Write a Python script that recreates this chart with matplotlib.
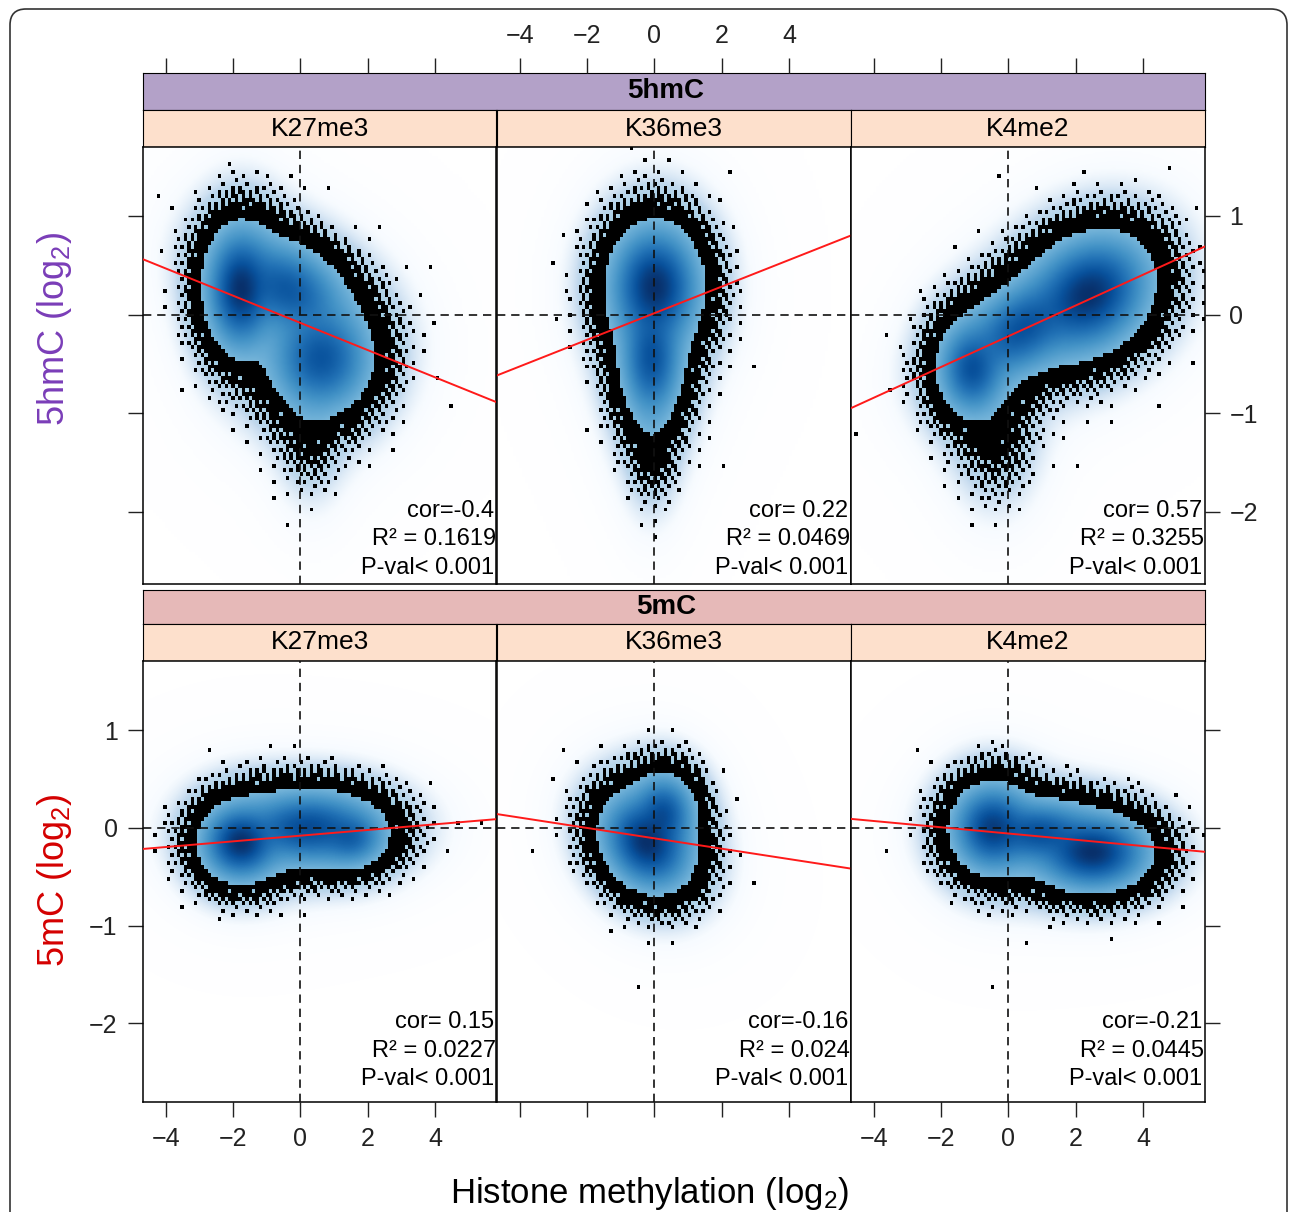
import numpy as np
import matplotlib
matplotlib.use('Agg')
import matplotlib.pyplot as plt
from matplotlib.colors import LinearSegmentedColormap
from matplotlib.patches import FancyBboxPatch
from matplotlib.transforms import IdentityTransform

plt.rcParams['font.family'] = ['Liberation Sans', 'DejaVu Sans']
plt.rcParams['mathtext.fontset'] = 'custom'
plt.rcParams['mathtext.rm'] = 'Liberation Sans'
plt.rcParams['mathtext.it'] = 'Liberation Sans:italic'

marks = ['5hmC', '5mC']
histones = ['K27me3', 'K36me3', 'K4me2']
cor_vals = [[-0.4, 0.22, 0.57], [0.15, -0.16, -0.21]]
r2_vals = [['0.1619', '0.0469', '0.3255'], ['0.0227', '0.024', '0.0445']]
pval_text = 'P-val< 0.001'

# fitted regression lines (slope, intercept)
slopes = [[-0.138, 0.135, 0.156], [0.029, -0.053, -0.032]]
intercepts = [[-0.085, 0.013, -0.221], [-0.080, -0.107, -0.058]]

# point cloud shape per panel, as density components:
# (x centre, y centre, x spread, y spread, correlation, weight)
blobs_hmc_k27 = [(-1.8, 0.25, 0.40, 0.24, 0.0, 1.0),
                 (-0.4, 0.25, 0.75, 0.22, -0.3, 0.45),
                 (0.6, -0.45, 0.65, 0.24, 0.0, 0.5),
                 (0.3, -1.1, 0.55, 0.40, 0.0, 0.012)]
blobs_hmc_k36 = [(0.0, 0.28, 0.52, 0.24, 0.0, 1.0),
                 (-0.1, -0.45, 0.40, 0.27, 0.0, 0.5),
                 (-0.1, -1.2, 0.45, 0.40, 0.0, 0.015)]
blobs_hmc_k4 = [(2.4, 0.2, 0.70, 0.23, 0.2, 1.0),
                (0.4, -0.15, 0.75, 0.22, 0.4, 0.5),
                (-1.1, -0.56, 0.42, 0.20, 0.0, 0.5),
                (-0.4, -1.2, 0.70, 0.40, 0.0, 0.012)]
blobs_mc_k27 = [(-1.8, -0.15, 0.45, 0.15, 0.0, 1.0),
                (0.2, 0.0, 0.85, 0.16, 0.0, 0.6),
                (1.5, -0.1, 0.45, 0.13, 0.0, 0.3)]
blobs_mc_k36 = [(-0.25, -0.15, 0.52, 0.19, -0.2, 1.0),
                (0.25, 0.15, 0.40, 0.17, 0.0, 0.5)]
blobs_mc_k4 = [(2.5, -0.25, 0.65, 0.15, 0.0, 1.0),
               (-0.5, 0.0, 0.48, 0.18, 0.0, 0.75),
               (0.9, -0.05, 0.70, 0.14, 0.0, 0.5)]
blobs = [[blobs_hmc_k27, blobs_hmc_k36, blobs_hmc_k4],
         [blobs_mc_k27, blobs_mc_k36, blobs_mc_k4]]

xticks = [-4, -2, 0, 2, 4]
yticks = [-2, -1, 0, 1]

W, H = 1290, 1212
xlim = (-4.69, 5.83)
ylims = [(-2.73, 1.70), (-2.80, 1.71)]
col_x = [142.6, 496.5, 850.5, 1204.5]
panel_rows = [(147, 583.5), (660.6, 1101.7)]
outer_strips = [(72.7, 110), (590, 623.7)]
inner_strips = [(110, 147), (623.7, 660.6)]
mark_colors = ['#b3a1c8', '#e6b9b8']
label_colors = ['#7a3db8', '#d40000']
peach = '#fde0cc'

blues = ['#FFFFFF', '#F7FBFF', '#DEEBF7', '#C6DBEF', '#9ECAE1', '#6BAED6',
         '#4292C6', '#2171B5', '#08519C', '#08306B']
cmap = LinearSegmentedColormap.from_list('smooth', blues)


def frac(x0, y0, x1, y1):
    return [x0 / W, 1 - y1 / H, (x1 - x0) / W, (y1 - y0) / H]


def density(X, Y, comps):
    d = np.zeros_like(X)
    nu = 6.0
    for cx, cy, sx, sy, rho, w in comps:
        dx = (X - cx) / sx
        dy = (Y - cy) / sy
        q = (dx**2 + dy**2 - 2 * rho * dx * dy) / (1 - rho**2)
        d += w * (1 + q / nu) ** (-(nu + 2) / 2)
    return d


fig = plt.figure(figsize=(W / 100, H / 100), dpi=100)

frame = FancyBboxPatch((10, -30), 1277, 1233, boxstyle='round,pad=0,rounding_size=16',
                       transform=IdentityTransform(), fc='none', ec='#333333', lw=1.2)
fig.patches.append(frame)

t_high = 0.03
t_fade = 0.003
a1, a2 = 0.7548776662466927, 0.5698402909980532

for r in range(2):
    top, bot = panel_rows[r]
    ylim = ylims[r]
    # outer strip with the mark name
    sax = fig.add_axes(frac(col_x[0], outer_strips[r][0], col_x[3], outer_strips[r][1]))
    sax.set_facecolor(mark_colors[r])
    sax.set_xticks([])
    sax.set_yticks([])
    sax.text(0.493, 0.5, marks[r], ha='center', va='center', fontsize=20,
             fontweight='bold', transform=sax.transAxes)
    for c in range(3):
        iax = fig.add_axes(frac(col_x[c], inner_strips[r][0], col_x[c + 1], inner_strips[r][1]))
        iax.set_facecolor(peach)
        iax.set_xticks([])
        iax.set_yticks([])
        iax.text(0.5, 0.5, histones[c], ha='center', va='center', fontsize=19,
                 transform=iax.transAxes)

        ax = fig.add_axes(frac(col_x[c], top, col_x[c + 1], bot))
        ax.set_xlim(xlim)
        ax.set_ylim(ylim)

        # smoothed density image
        gx = np.linspace(xlim[0], xlim[1], 118)
        gy = np.linspace(ylim[0], ylim[1], 146)
        X, Y = np.meshgrid(gx, gy)
        D = density(X, Y, blobs[r][c])
        dmax = D.max()
        D = D / dmax
        v = D ** 0.18 * np.clip(D / t_fade, 0, 1) ** 0.6
        ax.imshow(v, extent=(*xlim, *ylim), origin='lower', cmap=cmap,
                  vmin=0, vmax=1, aspect='auto', interpolation='bilinear', zorder=1)

        # low density points, drawn as black dots
        px = np.linspace(xlim[0], xlim[1], 104)
        py = np.linspace(ylim[0], ylim[1], 110)
        PX, PY = np.meshgrid(px, py)
        ratio = density(PX, PY, blobs[r][c]) / dmax / t_high
        p = np.where(ratio < 1, 1 - np.exp(-15 * ratio ** 1.8), 0)
        jj, ii = np.meshgrid(np.arange(len(px)), np.arange(len(py)))
        thr = (0.5 + ii * a1 + jj * a2) % 1
        dots = np.zeros(PX.shape + (4,))
        dots[..., 3] = (p > thr).astype(float)
        ax.imshow(dots, extent=(*xlim, *ylim), origin='lower', aspect='auto',
                  interpolation='nearest', zorder=2)

        ax.axhline(0, color='#111111', lw=1.2, ls=(0, (5, 3.5)), zorder=3)
        ax.axvline(0, color='#111111', lw=1.2, ls=(0, (5, 3.5)), zorder=3)

        lx = np.array(xlim)
        ax.plot(lx, slopes[r][c] * lx + intercepts[r][c], color='#ff1a1a', lw=1.4, zorder=4)

        xr = xlim[1] - 0.06
        ax.text(xr, -1.99, f'cor={cor_vals[r][c]: }', ha='right', va='center', fontsize=17, zorder=5)
        ax.text(xr + 0.05, -2.28, f'R² = {r2_vals[r][c]}', ha='right', va='center', fontsize=17, zorder=5)
        ax.text(xr, -2.57, pval_text, ha='right', va='center', fontsize=17, zorder=5)

        for s in ax.spines.values():
            s.set_linewidth(1.1)
        ax.tick_params(direction='out', length=11, width=1.0, labelsize=18, pad=7,
                       colors='#222222')

        # x ticks: top row on top of strips, bottom row below panels
        if r == 0:
            ax.set_xticks([])
            sec = ax.secondary_xaxis(1 + (top - outer_strips[0][0]) / (bot - top))
            sec.set_xticks(xticks)
            sec.spines['top'].set_visible(False)
            sec.tick_params(direction='out', length=11, width=1.0, labelsize=18, pad=7,
                            colors='#222222', labeltop=(c == 1))
        else:
            ax.set_xticks(xticks)
            if c == 1:
                ax.set_xticklabels([])

        # y ticks: left on first column, right on last column
        if c == 0:
            ax.set_yticks(yticks)
            if r == 0:
                ax.set_yticklabels([])
        elif c == 2:
            ax.set_yticks(yticks)
            ax.yaxis.tick_right()
            if r == 1:
                ax.set_yticklabels([])
        else:
            ax.set_yticks([])

fig.text(55 / W, 1 - 329 / H, r'5hmC (log$_2$)', rotation=90, ha='center', va='center',
         fontsize=26, color=label_colors[0])
fig.text(55 / W, 1 - 880 / H, r'5mC (log$_2$)', rotation=90, ha='center', va='center',
         fontsize=26, color=label_colors[1])
fig.text(650 / W, 1 - 1193 / H, r'Histone methylation (log$_2$)', ha='center', va='center',
         fontsize=25)

fig.savefig('out.png', dpi=100)
